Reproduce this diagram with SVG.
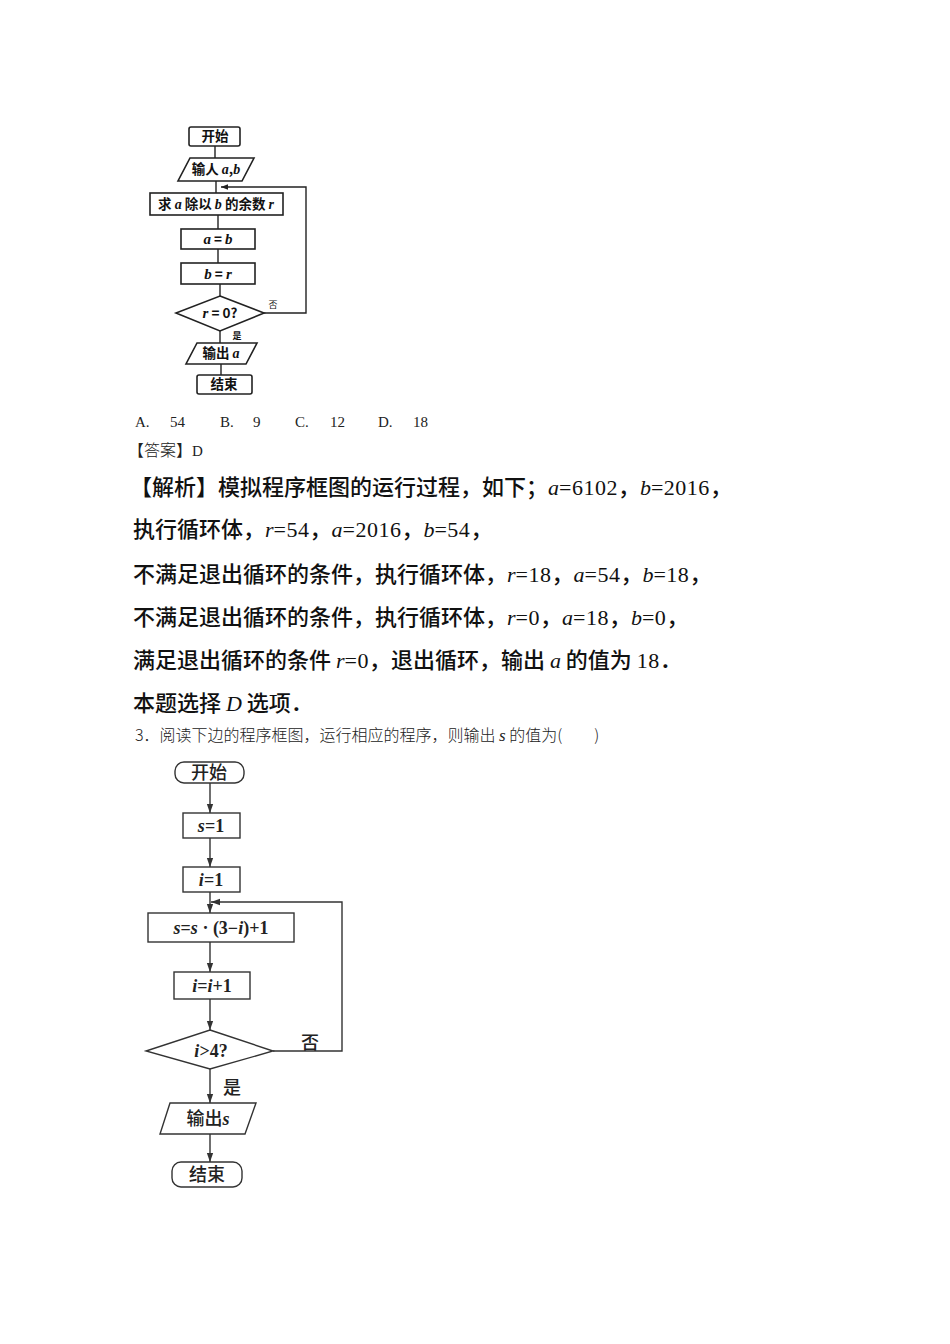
<svg xmlns="http://www.w3.org/2000/svg" width="950" height="1344" viewBox="0 0 950 1344">
<defs>
<style>
.bg{fill:#fff}
.sh{fill:#fff;stroke:#222;stroke-width:1.6}
.sh2{fill:#fff;stroke:#333;stroke-width:1.4}
.ln{fill:none;stroke:#222;stroke-width:1.4}
.ln2{fill:none;stroke:#333;stroke-width:1.4}
.t1{font-family:"Noto Sans CJK SC","Liberation Sans",sans-serif;font-size:13.5px;font-weight:700;fill:#111;text-anchor:middle}
.t2{font-family:"Liberation Serif","Noto Sans CJK SC",serif;font-size:18px;font-weight:700;fill:#222;text-anchor:middle}
.cjk2{font-family:"Noto Sans CJK SC",sans-serif;font-weight:500}
.m{font-family:"Liberation Serif",serif;font-style:italic}
.body{font-family:"Noto Sans CJK SC",sans-serif;font-size:22px;fill:#111;font-weight:500}
.num{font-family:"Liberation Serif",serif;letter-spacing:0.5px}
.small{font-family:"Liberation Serif","Noto Sans CJK SC",serif;font-size:15px;fill:#222}
.q{font-family:"Noto Sans CJK SC",sans-serif;font-size:16px;fill:#222;font-weight:300}
</style>
<marker id="ah" viewBox="0 0 10 10" refX="10" refY="5" markerWidth="7" markerHeight="7" orient="auto" markerUnits="userSpaceOnUse">
<path d="M0,1 L10,5 L0,9 Z" fill="#222"/>
</marker>
<marker id="ah2" viewBox="0 0 10 10" refX="10" refY="5" markerWidth="9" markerHeight="9" orient="auto" markerUnits="userSpaceOnUse">
<path d="M0,1.5 L10,5 L0,8.5 Z" fill="#333"/>
</marker>
</defs>
<rect class="bg" x="0" y="0" width="950" height="1344"/>

<!-- Flowchart 1 connectors -->
<g id="connectors1">
<line class="ln" x1="215" y1="146" x2="215" y2="158"/>
<line class="ln" x1="216" y1="181" x2="216" y2="193"/>
<line class="ln" x1="218" y1="215" x2="218" y2="229"/>
<line class="ln" x1="218" y1="249" x2="218" y2="263"/>
<line class="ln" x1="220" y1="284" x2="220" y2="296"/>
<line class="ln" x1="220" y1="331" x2="220" y2="343"/>
<line class="ln" x1="221" y1="364" x2="221" y2="375"/>
<polyline class="ln" points="264,313 306,313 306,187 221,187" marker-end="url(#ah)"/>
<text x="273" y="308" class="t1" style="font-size:9px;font-weight:400;font-family:'Noto Sans CJK SC',serif">否</text>
<text x="237" y="339" class="t1" style="font-size:9px">是</text>
</g>

<g id="n1-start"><rect class="sh" x="189" y="127" width="51" height="19" rx="2"/><text class="t1" x="215" y="141">开始</text></g>
<g id="n1-input"><polygon class="sh" points="190,158 254,158 242,181 178,181"/><text class="t1" x="216" y="174">输人 <tspan class="m" font-size="14">a</tspan>,<tspan class="m" font-size="14">b</tspan></text></g>
<g id="n1-rem"><rect class="sh" x="150" y="193" width="133" height="22"/><text class="t1" x="216" y="209">求 <tspan class="m" font-size="14">a</tspan> 除以 <tspan class="m" font-size="14">b</tspan> 的余数 <tspan class="m" font-size="14">r</tspan></text></g>
<g id="n1-ab"><rect class="sh" x="181" y="229" width="74" height="20"/><text class="t1" x="218" y="244"><tspan class="m" font-size="15">a</tspan> = <tspan class="m" font-size="15">b</tspan></text></g>
<g id="n1-br"><rect class="sh" x="181" y="263" width="74" height="21"/><text class="t1" x="218" y="279"><tspan class="m" font-size="15">b</tspan> = <tspan class="m" font-size="15">r</tspan></text></g>
<g id="n1-dec"><polygon class="sh" points="220,296 264,313 220,331 176,313"/><text class="t1" x="220" y="318"><tspan class="m" font-size="15">r</tspan> = 0?</text></g>
<g id="n1-out"><polygon class="sh" points="197,343 257,343 246,364 186,364"/><text class="t1" x="221" y="358">输出 <tspan class="m" font-size="14">a</tspan></text></g>
<g id="n1-end"><rect class="sh" x="197" y="375" width="55" height="19" rx="2"/><text class="t1" x="224" y="389">结束</text></g>

<!-- Text block -->
<g id="text">
<text class="small" x="135" y="427">A.<tspan x="170">54</tspan><tspan x="220">B.</tspan><tspan x="253">9</tspan><tspan x="295">C.</tspan><tspan x="330">12</tspan><tspan x="378">D.</tspan><tspan x="413">18</tspan></text>
<text class="small" x="128" y="456"><tspan style="font-family:'Noto Sans CJK SC',sans-serif;font-size:16px;font-weight:300">【答案】</tspan>D</text>
<text class="body" x="130" y="495">【解析】模拟程序框图的运行过程，如下；<tspan class="m">a</tspan><tspan class="num">=6102</tspan>，<tspan class="m">b</tspan><tspan class="num">=2016</tspan>，</text>
<text class="body" x="133" y="537">执行循环体，<tspan class="m">r</tspan><tspan class="num">=54</tspan>，<tspan class="m">a</tspan><tspan class="num">=2016</tspan>，<tspan class="m">b</tspan><tspan class="num">=54</tspan>，</text>
<text class="body" x="133" y="582">不满足退出循环的条件，执行循环体，<tspan class="m">r</tspan><tspan class="num">=18</tspan>，<tspan class="m">a</tspan><tspan class="num">=54</tspan>，<tspan class="m">b</tspan><tspan class="num">=18</tspan>，</text>
<text class="body" x="133" y="625">不满足退出循环的条件，执行循环体，<tspan class="m">r</tspan><tspan class="num">=0</tspan>，<tspan class="m">a</tspan><tspan class="num">=18</tspan>，<tspan class="m">b</tspan><tspan class="num">=0</tspan>，</text>
<text class="body" x="133" y="668">满足退出循环的条件 <tspan class="m">r</tspan><tspan class="num">=0</tspan>，退出循环，输出 <tspan class="m">a</tspan> 的值为 <tspan class="num">18</tspan>．</text>
<text class="body" x="133" y="711">本题选择 <tspan class="m">D</tspan> 选项．</text>
<text class="q" x="135" y="741">3．阅读下边的程序框图，运行相应的程序，则输出 <tspan class="m" style="font-size:17px">s</tspan> 的值为(　　)</text>
</g>

<!-- Flowchart 2 connectors -->
<g id="connectors2">
<line class="ln2" x1="210" y1="783" x2="210" y2="813" marker-end="url(#ah2)"/>
<line class="ln2" x1="210" y1="838" x2="210" y2="867" marker-end="url(#ah2)"/>
<line class="ln2" x1="210" y1="892" x2="210" y2="913" marker-end="url(#ah2)"/>
<line class="ln2" x1="210" y1="942" x2="210" y2="972" marker-end="url(#ah2)"/>
<line class="ln2" x1="210" y1="999" x2="210" y2="1030" marker-end="url(#ah2)"/>
<line class="ln2" x1="210" y1="1069" x2="210" y2="1103" marker-end="url(#ah2)"/>
<line class="ln2" x1="210" y1="1134" x2="210" y2="1162" marker-end="url(#ah2)"/>
<polyline class="ln2" points="273,1051 342,1051 342,902 211,902" marker-end="url(#ah2)"/>
<text x="310" y="1049" class="t2 cjk2" style="font-size:18px">否</text>
<text x="232" y="1094" class="t2 cjk2" style="font-size:18px">是</text>
</g>

<g id="n2-start"><rect class="sh2" x="175" y="762" width="69" height="21" rx="9"/><text class="t2 cjk2" x="209" y="779">开始</text></g>
<g id="n2-s1"><rect class="sh2" x="183" y="813" width="57" height="25"/><text class="t2" x="211" y="832"><tspan class="m">s</tspan>=1</text></g>
<g id="n2-i1"><rect class="sh2" x="183" y="867" width="57" height="25"/><text class="t2" x="211" y="886"><tspan class="m">i</tspan>=1</text></g>
<g id="n2-calc"><rect class="sh2" x="148" y="913" width="146" height="29"/><text class="t2" x="221" y="934"><tspan class="m">s</tspan>=<tspan class="m">s</tspan> · (3−<tspan class="m">i</tspan>)+1</text></g>
<g id="n2-inc"><rect class="sh2" x="174" y="972" width="76" height="27"/><text class="t2" x="212" y="992"><tspan class="m">i</tspan>=<tspan class="m">i</tspan>+1</text></g>
<g id="n2-dec"><polygon class="sh2" points="210,1030 273,1051 210,1069 146,1051"/><text class="t2" x="211" y="1057"><tspan class="m">i</tspan>&gt;4?</text></g>
<g id="n2-out"><polygon class="sh2" points="170,1103 256,1103 245,1134 160,1134"/><text class="t2 cjk2" x="208" y="1125">输出<tspan class="m" style="font-family:'Liberation Serif',serif;font-weight:700">s</tspan></text></g>
<g id="n2-end"><rect class="sh2" x="172" y="1162" width="70" height="25" rx="9"/><text class="t2 cjk2" x="207" y="1181">结束</text></g>
</svg>
